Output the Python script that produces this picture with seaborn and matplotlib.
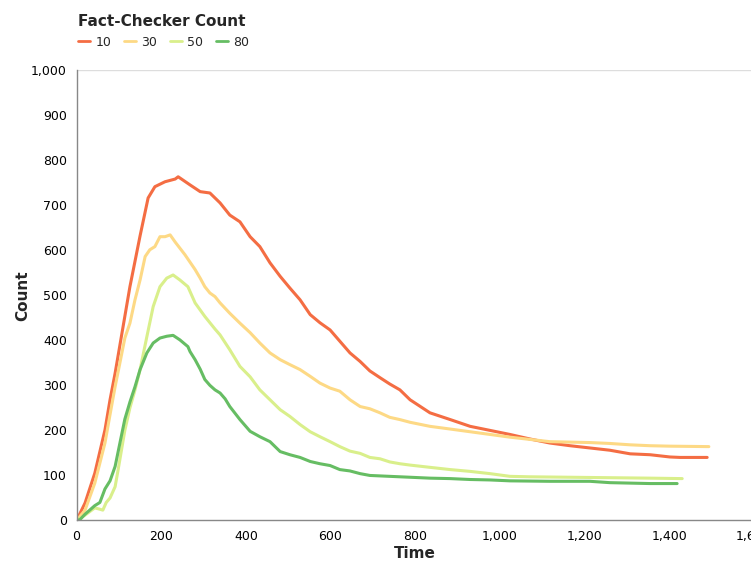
import pandas as pd
import matplotlib
matplotlib.use("Agg")
import matplotlib.pyplot as plt
import matplotlib.ticker as mticker
from matplotlib.lines import Line2D
import seaborn as sns

# values
t_10 = [0, 20, 43, 67, 79, 91, 103, 126, 150, 169, 185, 209, 233, 240, 268, 292, 315,
        339, 362, 386, 410, 433, 457, 481, 504, 528, 552, 575, 599, 622, 646, 670, 693,
        717, 740, 764, 788, 835, 883, 930, 977, 1024, 1071, 1118, 1166, 1213, 1260,
        1308, 1355, 1402, 1426, 1490]
count_10 = [0, 39, 105, 201, 268, 327, 393, 519, 632, 716, 741, 752, 758, 763, 745, 730,
            727, 705, 678, 663, 630, 608, 572, 542, 516, 490, 457, 439, 423, 398, 372,
            353, 332, 317, 303, 290, 268, 239, 224, 209, 200, 191, 181, 172, 166, 161,
            156, 148, 146, 141, 140, 140]

t_30 = [0, 20, 43, 67, 79, 91, 103, 114, 126, 138, 150, 162, 173, 185, 197, 209, 221,
        233, 256, 280, 292, 303, 315, 327, 339, 362, 386, 410, 433, 457, 481, 504, 528,
        552, 575, 599, 622, 646, 670, 693, 717, 740, 764, 788, 835, 883, 930, 977,
        1024, 1071, 1118, 1166, 1213, 1260, 1308, 1355, 1402, 1494]
count_30 = [0, 23, 83, 172, 235, 297, 353, 405, 438, 490, 534, 586, 601, 608, 630, 630,
            634, 618, 590, 557, 538, 519, 505, 497, 483, 460, 438, 417, 394, 372, 357,
            346, 335, 320, 305, 294, 287, 268, 253, 248, 239, 229, 224, 218, 209, 203,
            197, 191, 185, 180, 175, 174, 173, 171, 168, 166, 165, 164]

t_50 = [0, 20, 43, 55, 62, 70, 79, 91, 98, 114, 126, 138, 150, 166, 181, 197, 213, 228,
        244, 263, 280, 303, 315, 327, 339, 362, 386, 410, 433, 457, 481, 504, 528, 552,
        575, 599, 622, 646, 670, 693, 717, 740, 764, 788, 835, 883, 930, 977, 1024,
        1071, 1166, 1260, 1355, 1431]
count_50 = [0, 12, 28, 25, 23, 40, 50, 75, 112, 200, 250, 290, 335, 408, 475, 519, 538,
            545, 534, 519, 483, 453, 439, 425, 412, 379, 342, 319, 290, 268, 246, 231,
            213, 197, 186, 175, 164, 154, 149, 140, 137, 130, 126, 123, 118, 113, 109,
            104, 98, 97, 96, 95, 94, 93]

t_80 = [0, 8, 20, 43, 55, 67, 79, 91, 103, 114, 126, 138, 150, 166, 181, 197, 213, 228,
        244, 263, 268, 280, 292, 303, 315, 327, 339, 351, 362, 386, 410, 433, 457, 481,
        504, 528, 552, 575, 599, 622, 646, 670, 693, 740, 788, 835, 883, 930, 977,
        1024, 1118, 1213, 1260, 1355, 1419]
count_80 = [0, 2, 14, 33, 40, 70, 88, 120, 175, 225, 263, 297, 335, 372, 394, 405, 409,
            411, 401, 386, 375, 357, 336, 313, 300, 290, 283, 270, 253, 224, 198, 186,
            175, 153, 146, 140, 131, 126, 122, 113, 110, 104, 100, 98, 96, 94, 93, 91,
            90, 88, 87, 87, 84, 82, 82]

checkers = ["10", "30", "50", "80"]
colors = ["#f46d43", "#fdd985", "#d9ef8b", "#66bd63"]


def main():
    frames = []
    for name, t, c in zip(checkers, [t_10, t_30, t_50, t_80],
                          [count_10, count_30, count_50, count_80]):
        frames.append(pd.DataFrame({"Time": t, "Count": c, "checkers": name}))
    df = pd.concat(frames, ignore_index=True)

    sns.set_style("white")
    plt.rcParams["font.family"] = ["DejaVu Sans"]

    fig = plt.figure(figsize=(7.51, 5.61), dpi=100)
    ax = fig.add_axes([0.102, 0.0722, 0.9016, 0.803])

    palette = dict(zip(checkers, colors))
    sns.lineplot(data=df, x="Time", y="Count", hue="checkers", palette=palette,
                 linewidth=2.2, ax=ax, legend=False, estimator=None, sort=False)

    ax.set_xlim(0, 1600)
    ax.set_ylim(0, 1000)
    ax.axhline(1000, color="#dddddd", lw=1, zorder=0)

    ax.set_xticks(range(0, 1601, 100))
    ax.set_xticklabels([f"{x:,}" if x % 200 == 0 else "" for x in range(0, 1601, 100)])
    ax.set_yticks(range(0, 1001, 100))
    ax.yaxis.set_major_formatter(mticker.FuncFormatter(lambda v, p: f"{int(v):,}"))

    for side in ["top", "right"]:
        ax.spines[side].set_visible(False)
    for side in ["left", "bottom"]:
        ax.spines[side].set_color("#888888")
        ax.spines[side].set_linewidth(1)
    ax.tick_params(axis="both", length=5, width=1, color="#888888",
                   labelsize=9, labelcolor="black", pad=2, direction="out")

    ax.set_xlabel("Time", fontsize=11, fontweight="bold", labelpad=2)
    ax.set_ylabel("Count", fontsize=11, fontweight="bold", labelpad=0.5)

    handles = [Line2D([0], [0], color=c, lw=2) for c in colors]
    leg = fig.legend(handles, checkers, title="Fact-Checker Count", ncol=4,
                     loc="upper left", bbox_to_anchor=(0.092, 0.99), frameon=False,
                     fontsize=9, handlelength=1.0, handletextpad=0.4,
                     columnspacing=1.0, alignment="left", borderaxespad=0.3)
    leg.get_title().set_fontweight("bold")
    leg.get_title().set_fontsize(11)

    fig.savefig("out.png", dpi=100)


if __name__ == "__main__":
    main()
